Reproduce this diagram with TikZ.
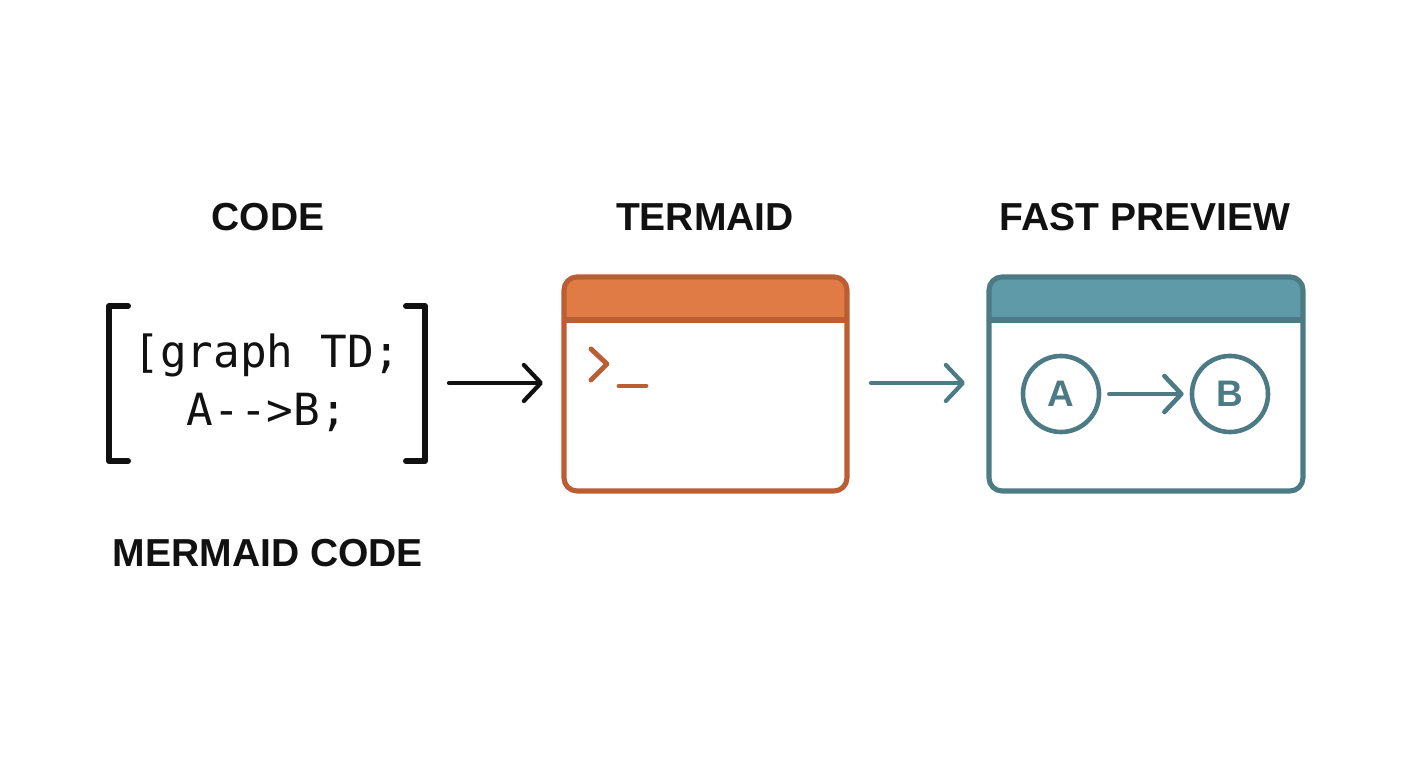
\documentclass[tikz,border=0pt]{standalone}
\usepackage{fontspec}
\setmainfont{Liberation Sans}
\setmonofont{DejaVu Sans Mono}
\usetikzlibrary{arrows.meta}
\definecolor{orstroke}{HTML}{BC5E33}
\definecolor{orfill}{HTML}{E07B45}
\definecolor{tlstroke}{HTML}{4D7B85}
\definecolor{tlfill}{HTML}{5E9AA8}
\definecolor{ink}{HTML}{111111}
\tikzset{
  title/.style={font=\fontsize{11.1pt}{13pt}\selectfont\bfseries, text=ink, inner sep=0pt},
  codetxt/.style={font=\fontsize{12.6pt}{15pt}\selectfont\ttfamily, text=ink, inner sep=0pt},
  chev/.style={-{Straight Barb[length=0.17cm,width=0.36cm,round]}, line cap=round},
  win/.style={line width=1.45pt, rounded corners=0.13cm},
  circ/.style={circle, draw=tlstroke, line width=1.3pt, minimum size=0.76cm, inner sep=0pt,
     text=tlstroke, font=\fontsize{10.5pt}{12pt}\selectfont\bfseries},
}
\begin{document}
\begin{tikzpicture}[x=0.01cm,y=-0.01cm]
\useasboundingbox (0,0) rectangle (1408,768);
\fill[white] (0,0) rectangle (1408,768);

% titles
\node[title] (tcode) at (268,217) {CODE};
\node[title] (tterm) at (705,217) {TERMAID};
\node[title] (tprev) at (1145,217) {FAST PREVIEW};
\node[title] (tmer) at (268,553) {MERMAID CODE};

% brackets
\draw[ink, line width=1.7pt, line cap=round, line join=round] (128,306) -- (109,306) -- (109,461) -- (128,461);
\draw[ink, line width=1.7pt, line cap=round, line join=round] (406,306) -- (425,306) -- (425,461) -- (406,461);
\node[codetxt] (l1) at (267,355) {[graph TD;};
\node[codetxt] (l2) at (267,412) {A-->B;};

% arrow 1
\coordinate (a1s) at (449,383);
\coordinate (a1e) at (543,383);
\draw[chev, ink, line width=1.2pt] (a1s) -- (a1e);

% terminal window
\begin{scope}
\clip[rounded corners=0.13cm] (564,277) rectangle (847,491);
\fill[orfill] (564,277) rectangle (847,320);
\end{scope}
\draw[win, orstroke] (564,277) rectangle (847,491);
\draw[orstroke, line width=1.45pt] (564,320) -- (847,320);
\draw[orstroke, line width=1.4pt, line cap=round, line join=round] (591,349) -- (607,364) -- (591,380);
\draw[orstroke, line width=1.4pt, line cap=round] (619,386) -- (646,386);

% arrow 2
\coordinate (a2s) at (871,383);
\coordinate (a2e) at (965,383);
\draw[chev, tlstroke, line width=1.2pt] (a2s) -- (a2e);

% preview window
\begin{scope}
\clip[rounded corners=0.13cm] (989,277) rectangle (1303,491);
\fill[tlfill] (989,277) rectangle (1303,320);
\end{scope}
\draw[win, tlstroke] (989,277) rectangle (1303,491);
\draw[tlstroke, line width=1.45pt] (989,320) -- (1303,320);
\node[circ] (A) at (1061,394) {A};
\node[circ] (B) at (1230,394) {B};
\draw[chev, tlstroke, line width=1.3pt, shorten <=0.08cm, shorten >=0.06cm] (A) -- (B);
\end{tikzpicture}
\end{document}
